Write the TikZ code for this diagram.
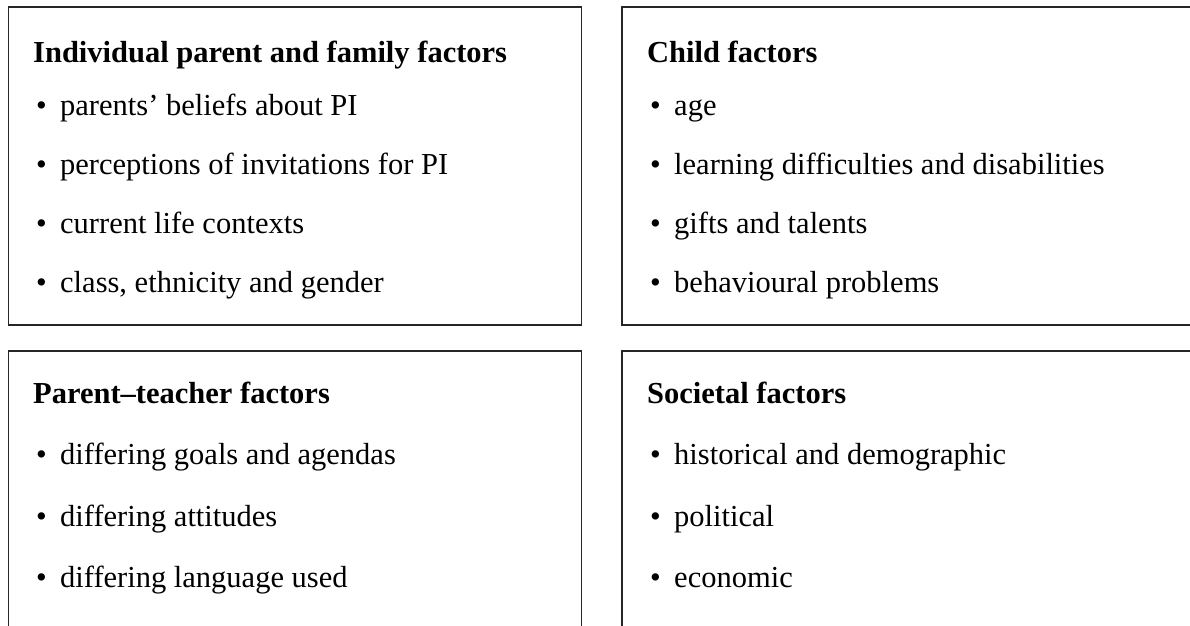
\documentclass[tikz,border=0pt]{standalone}
\usepackage{fontspec}
\setmainfont{Liberation Serif}
\begin{document}
\begin{tikzpicture}[x=1pt,y=-1pt,
  frame/.style={draw=black!85,line width=1.7pt},
  title/.style={anchor=base west,inner sep=0pt,font=\fontsize{30.5}{36}\selectfont\bfseries},
  item/.style={anchor=base west,inner sep=0pt,font=\fontsize{30.5}{36}\selectfont},
  dot/.style={anchor=base west,inner sep=0pt,font=\fontsize{30.5}{36}\selectfont}]
\useasboundingbox (0,0) rectangle (1190,625);
\clip (0,0) rectangle (1190,625);
% boxes
\draw[frame] (8.5,7) rectangle (581.5,325);
\draw[frame] (622,7) rectangle (1210,325);
\draw[frame] (8.5,351) rectangle (581.5,650);
\draw[frame] (622,351) rectangle (1210,650);
% top-left
\node[title] (t1) at (33,62) {Individual parent and family factors};
\foreach \i/\y/\t in {1/115/{parents’ beliefs about PI},2/174/{perceptions of invitations for PI},3/233/{current life contexts},4/292/{class, ethnicity and gender}}{
  \node[dot] (a\i b) at (36,\y) {\textbullet};
  \node[item] (a\i) at (60,\y) {\t};
}
% top-right
\node[title] (t2) at (647,62) {Child factors};
\foreach \i/\y/\t in {1/115/{age},2/174/{learning difficulties and disabilities},3/233/{gifts and talents},4/292/{behavioural problems}}{
  \node[dot] (b\i b) at (650,\y) {\textbullet};
  \node[item] (b\i) at (674,\y) {\t};
}
% bottom-left
\node[title] (t3) at (33,403) {Parent–teacher factors};
\foreach \i/\y/\t in {1/464/{differing goals and agendas},2/526/{differing attitudes},3/587/{differing language used}}{
  \node[dot] (c\i b) at (36,\y) {\textbullet};
  \node[item] (c\i) at (60,\y) {\t};
}
% bottom-right
\node[title] (t4) at (647,403) {Societal factors};
\foreach \i/\y/\t in {1/464/{historical and demographic},2/526/{political},3/587/{economic}}{
  \node[dot] (d\i b) at (650,\y) {\textbullet};
  \node[item] (d\i) at (674,\y) {\t};
}
\end{tikzpicture}
\end{document}
